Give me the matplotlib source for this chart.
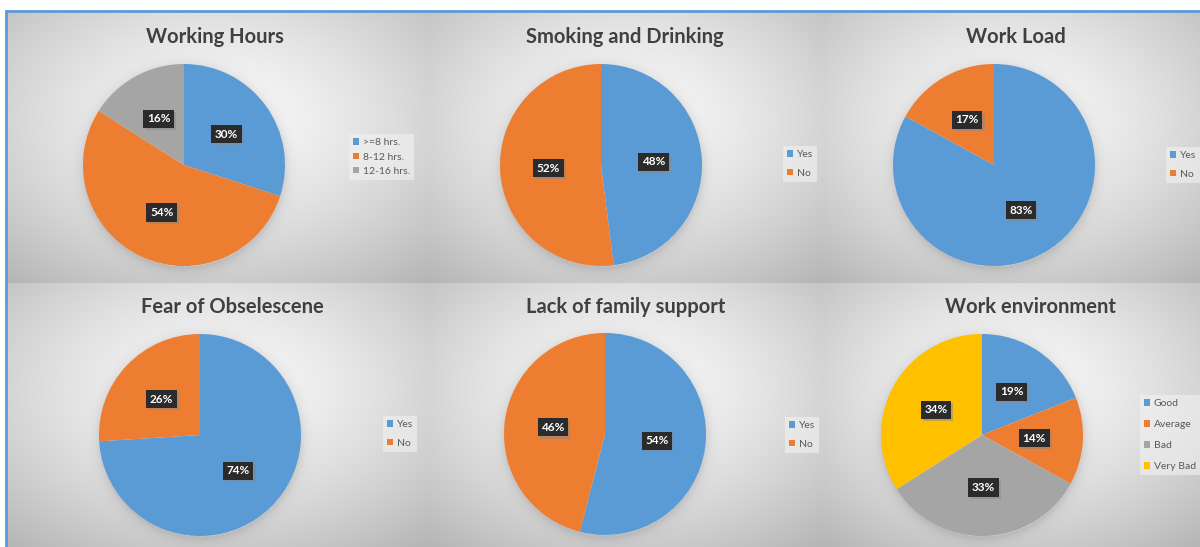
import numpy as np
import matplotlib
matplotlib.use("Agg")
import matplotlib.pyplot as plt
import matplotlib.patheffects as pe

# ---------------- data ----------------
titles = ["Working Hours", "Smoking and Drinking", "Work Load",
          "Fear of Obselescene", "Lack of family support", "Work environment"]
hours_labels = [">=8 hrs.", "8-12 hrs.", "12-16 hrs."]
hours_values = [30, 54, 16]
yes_no_labels = ["Yes", "No"]
smoking_values = [48, 52]
workload_values = [83, 17]
fear_values = [74, 26]
family_values = [54, 46]
env_labels = ["Good", "Average", "Bad", "Very Bad"]
env_values = [19, 14, 33, 34]
colors = ["#5B9BD5", "#ED7D31", "#A5A5A5", "#FFC000"]

series = [
    (hours_labels, hours_values),
    (yes_no_labels, smoking_values),
    (yes_no_labels, workload_values),
    (yes_no_labels, fear_values),
    (yes_no_labels, family_values),
    (env_labels, env_values),
]

# ---------------- layout (pixels) ----------------
W, H = 1200, 547
cols = [(7, 428), (428, 822), (822, 1200)]
rows = [(12, 283), (283, 547)]
R = 101
pie_centers = [(184, 165), (601, 165), (994, 165),
               (200, 435), (605, 434), (982, 435)]
title_pos = [(215, 37), (625, 37), (1016, 37),
             (232, 307), (626, 307), (1030, 307)]
legend_pos = [(349, 157), (783, 164), (1166, 165),
              (383, 434), (785, 435), (1140, 435)]
legend_spacing = [0.5, 0.9, 0.9, 0.9, 0.9, 1.15]

fig = plt.figure(figsize=(W / 100, H / 100), dpi=100)

# ---------------- background gradient image ----------------
img = np.ones((H, W, 3))
yy, xx = np.mgrid[0:H, 0:W].astype(float)
for ri, (y0, y1) in enumerate(rows):
    for ci, (x0, x1) in enumerate(cols):
        k = ri * 3 + ci
        m = (yy >= y0) & (yy < y1) & (xx >= x0) & (xx < x1)
        cx, cy = (x0 + x1) / 2, y0 + (y1 - y0) * 0.4
        nx = (xx - cx) / ((x1 - x0) / 2)
        ny = (yy - cy) / ((y1 - y0) / 2)
        d = np.sqrt(nx ** 2 + ny ** 2) / 1.3
        v = 0.98 - 0.21 * np.clip(d, 0, 1.2) ** 1.4
        pcx, pcy = pie_centers[k]
        dp = np.sqrt((xx - pcx) ** 2 + (yy - pcy - 2) ** 2)
        shadow = np.where(dp > R - 2, 0.10 * np.exp(-(dp - R) / 5.0), 0.0)
        shadow = np.clip(shadow, 0, 0.10)
        v = v * (1 - shadow)
        for c in range(3):
            img[..., c][m] = v[m]
img[:10, :, :] = 1.0
img[:, :5, :] = 1.0
bg = fig.add_axes([0, 0, 1, 1])
bg.imshow(img, extent=[0, W, H, 0], aspect="auto", interpolation="bilinear")
bg.set_xlim(0, W)
bg.set_ylim(H, 0)
bg.axis("off")
bg.plot([5, W], [10.5, 10.5], color="#5B9BD5", lw=2, solid_capstyle="butt")
bg.plot([5.5, 5.5], [10, H], color="#5B9BD5", lw=2, solid_capstyle="butt")

title_font = "Lato"

for k, (labels, values) in enumerate(series):
    pcx, pcy = pie_centers[k]
    ax = fig.add_axes([(pcx - R) / W, 1 - (pcy + R) / H, 2 * R / W, 2 * R / H])
    wedges, texts, autotexts = ax.pie(
        values, colors=colors[:len(values)], startangle=90, counterclock=False,
        radius=1, autopct=lambda p: f"{p:.0f}%", pctdistance=0.52,
        wedgeprops=dict(linewidth=0),
        textprops=dict(color="white", fontsize=8.5, fontweight="bold", family=title_font))
    for t in autotexts:
        t.set_bbox(dict(boxstyle="square,pad=0.3", facecolor="#2b2b2b", edgecolor="none"))
        t.get_bbox_patch().set_path_effects(
            [pe.SimplePatchShadow(offset=(1.5, -1.5), shadow_rgbFace="#888888", alpha=0.5), pe.Normal()])
    ax.set_xlim(-1, 1)
    ax.set_ylim(-1, 1)
    ax.axis("off")

    tx, ty = title_pos[k]
    fig.text(tx / W, 1 - ty / H, titles[k], ha="center", va="center",
             fontsize=14.5, fontweight="bold", color="#404040", family=title_font)

    lx, ly = legend_pos[k]
    leg = ax.legend(wedges, labels, loc="center left",
                    bbox_to_anchor=(lx / W, 1 - ly / H), bbox_transform=fig.transFigure,
                    fontsize=7.5, frameon=True, handlelength=0.6, handleheight=0.6,
                    handletextpad=0.3, labelspacing=legend_spacing[k], borderpad=0.4,
                    borderaxespad=0)
    leg.get_frame().set_facecolor("#f2f2f2")
    leg.get_frame().set_alpha(0.6)
    leg.get_frame().set_edgecolor("none")
    leg.get_frame().set_boxstyle("square,pad=0")
    for t in leg.get_texts():
        t.set_color("#595959")
        t.set_family(title_font)

fig.savefig("out.png", dpi=100)
